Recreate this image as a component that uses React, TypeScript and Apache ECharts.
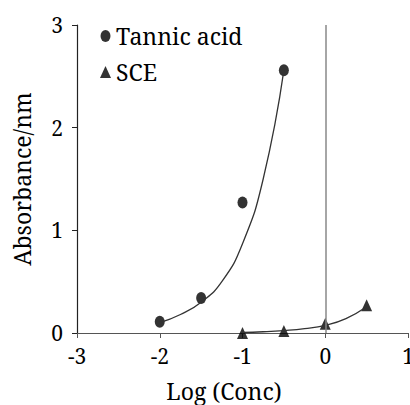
import React, { useEffect, useRef } from "react";
import * as echarts from "echarts";

const tannicX = [-2, -1.5, -1, -0.5];
const tannicY = [0.11, 0.34, 1.27, 2.56];
const sceX = [-1, -0.5, 0, 0.5];
const sceY = [0.0, 0.02, 0.09, 0.27];
// trend curves
const tannicTrendX = [-2, -1.75, -1.5, -1.25, -1, -0.75, -0.5];
const tannicTrendY = [0.1, 0.18, 0.3, 0.5, 0.87, 1.5, 2.56];
const sceTrendX = [-1, -0.75, -0.5, -0.25, 0, 0.25, 0.5];
const sceTrendY = [0.005, 0.012, 0.024, 0.043, 0.075, 0.14, 0.255];
const legendNames = ["Tannic acid", "SCE"];
const xTitle = "Log (Conc)";
const yTitle = "Absorbance/nm";

const ellipse = "path://M0,6A5,6 0 1,1 10,6A5,6 0 1,1 0,6Z";
const font = "Noto Serif";

export default function App() {
  const ref = useRef<HTMLDivElement>(null);
  useEffect(() => {
    if (!ref.current) return;
    const chart = echarts.init(ref.current, undefined, { renderer: "svg" });
    const zip = (xs: number[], ys: number[]) => xs.map((x, i) => [x, ys[i]]);
    chart.setOption({
      animation: false,
      backgroundColor: "#fff",
      textStyle: { fontFamily: font },
      grid: { left: 77, right: 2, top: 25, bottom: 72, outerBoundsMode: "none", containLabel: false },
      legend: {
        orient: "vertical",
        left: 95,
        top: 17,
        itemGap: 8,
        itemWidth: 11,
        itemHeight: 12,
        textStyle: { fontFamily: font, fontSize: 23, color: "#000", lineHeight: 28 },
        data: [
          { name: legendNames[0], icon: ellipse },
          { name: legendNames[1], icon: "triangle" },
        ],
      },
      xAxis: {
        type: "value",
        min: -3,
        max: 1,
        interval: 1,
        name: xTitle,
        nameLocation: "middle",
        nameGap: 46,
        nameTextStyle: { fontFamily: font, fontSize: 23, color: "#000", padding: [0, 37, 0, 0] },
        axisLine: { show: true, onZero: false, lineStyle: { color: "#555", width: 1.2 } },
        axisTick: { show: true, inside: false, length: 5, lineStyle: { color: "#555" } },
        axisLabel: { fontFamily: font, fontSize: 21, color: "#000", margin: 12 },
        splitLine: { show: false },
      },
      yAxis: {
        type: "value",
        min: 0,
        max: 3,
        interval: 1,
        name: yTitle,
        nameLocation: "middle",
        nameGap: 44,
        nameRotate: 90,
        nameTextStyle: { fontFamily: font, fontSize: 23, color: "#000" },
        axisLine: { show: true, onZero: false, lineStyle: { color: "#222", width: 1.2 } },
        axisTick: { show: true, inside: false, length: 5, lineStyle: { color: "#222" } },
        axisLabel: { fontFamily: font, fontSize: 21, color: "#000", margin: 14 },
        splitLine: { show: false },
      },
      series: [
        {
          name: "trend1",
          type: "line",
          smooth: true,
          showSymbol: false,
          silent: true,
          data: zip(tannicTrendX, tannicTrendY),
          lineStyle: { color: "#333", width: 1.3 },
          markLine: {
            silent: true,
            symbol: "none",
            label: { show: false },
            lineStyle: { color: "#888", width: 1.5, type: "solid" },
            data: [{ xAxis: 0 }],
          },
        },
        {
          name: "trend2",
          type: "line",
          smooth: true,
          showSymbol: false,
          silent: true,
          data: zip(sceTrendX, sceTrendY),
          lineStyle: { color: "#333", width: 1.3 },
        },
        {
          name: legendNames[0],
          type: "scatter",
          symbol: ellipse,
          symbolSize: [10, 12],
          itemStyle: { color: "#000" },
          data: zip(tannicX, tannicY),
        },
        {
          name: legendNames[1],
          type: "scatter",
          symbol: "triangle",
          symbolSize: [11, 12],
          itemStyle: { color: "#000" },
          data: zip(sceX, sceY),
        },
      ],
    });
    return () => chart.dispose();
  }, []);
  return (
    <div
      ref={ref}
      style={{ position: "fixed", left: 0, top: 0, width: 410, height: 405, background: "#fff" }}
    />
  );
}
